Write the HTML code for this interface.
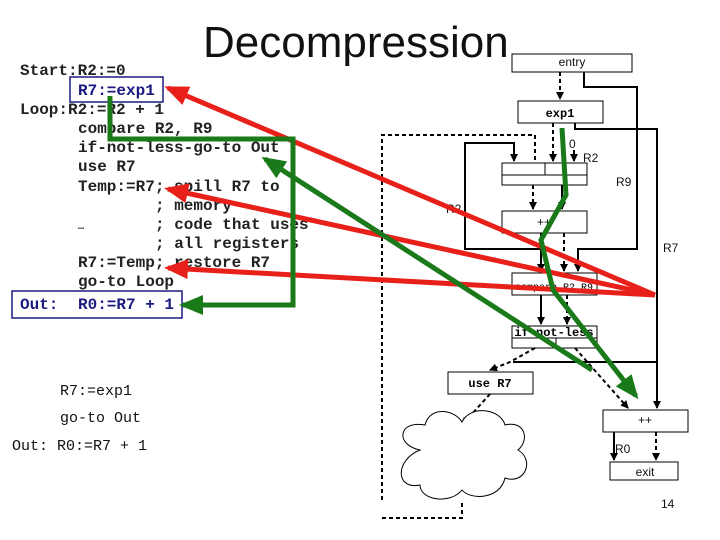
<!DOCTYPE html>
<html><head><meta charset="utf-8"><style>
html,body{margin:0;padding:0;background:#fff;}
svg{display:block;}
.m{font-family:"Liberation Mono",monospace;font-weight:bold;font-size:16px;fill:#222;}
.b{fill:#1a1a80;}
.n{font-family:"Liberation Mono",monospace;font-size:15px;fill:#111;}
.s{font-family:"Liberation Sans",sans-serif;font-size:12px;fill:#111;}
</style></head><body>
<svg width="720" height="540" viewBox="0 0 720 540" xmlns="http://www.w3.org/2000/svg">
<defs>
<marker id="ah" markerWidth="8" markerHeight="8" refX="7" refY="4" orient="auto" markerUnits="userSpaceOnUse"><path d="M0,0L8,4L0,8z" fill="#000"/></marker>
<marker id="rh" markerWidth="24" markerHeight="20" refX="20" refY="10" orient="auto" markerUnits="userSpaceOnUse"><path d="M0,0L24,10L0,20z" fill="#e8201a"/></marker>
<marker id="gh" markerWidth="24" markerHeight="20" refX="20" refY="10" orient="auto" markerUnits="userSpaceOnUse"><path d="M0,0L24,10L0,20z" fill="#1a7a1a"/></marker>
</defs>
<text x="203" y="57" font-family="Liberation Sans,sans-serif" font-size="44" fill="#111">Decompression</text>

<rect x="70" y="77" width="93" height="25" fill="none" stroke="#1a1a80" stroke-width="1.5"/>
<rect x="12" y="291" width="170" height="27" fill="none" stroke="#1a1a80" stroke-width="1.5"/>
<g class="m">
<text x="20" y="75">Start:R2:=0</text>
<text x="78" y="95" class="m b">R7:=exp1</text>
<text x="20" y="114">Loop:R2:=R2 + 1</text>
<text x="78" y="133">compare R2, R9</text>
<text x="78" y="152">if-not-less-go-to Out</text>
<text x="78" y="171">use R7</text>
<text x="78" y="191">Temp:=R7; spill R7 to</text>
<text x="155" y="210">; memory</text>
<text x="78" y="229" font-size="10">…</text>
<text x="155" y="229">; code that uses</text>
<text x="155" y="248">; all registers</text>
<text x="78" y="267">R7:=Temp; restore R7</text>
<text x="78" y="286">go-to Loop</text>
<text x="20" y="309" class="m b">Out:</text>
<text x="78" y="309" class="m b">R0:=R7 + 1</text>
</g>
<g class="n">
<text x="60" y="395">R7:=exp1</text>
<text x="60" y="422">go-to Out</text>
<text x="12" y="450">Out:  R0:=R7 + 1</text>
</g>

<g fill="#fff" stroke="#000" stroke-width="1">
<rect x="512" y="54" width="120" height="18"/>
<rect x="518" y="101" width="85" height="22"/>
<rect x="502" y="163" width="85" height="22"/>
<rect x="502" y="211" width="85" height="22"/>
<rect x="512" y="273" width="85" height="22"/>
<rect x="512" y="326" width="85" height="22"/>
<rect x="448" y="372" width="85" height="22"/>
<rect x="603" y="410" width="85" height="22"/>
<rect x="610" y="462" width="68" height="18"/>
</g>
<g stroke="#000" stroke-width="1" fill="none">
<line x1="502" y1="175" x2="587" y2="175"/><line x1="545" y1="163" x2="545" y2="175"/>
<line x1="512" y1="338" x2="597" y2="338"/><line x1="556" y1="338" x2="556" y2="348"/>
</g>
<text x="572" y="66" class="s" text-anchor="middle">entry</text>
<text x="560" y="117" text-anchor="middle" font-family="Liberation Mono,monospace" font-weight="bold" font-size="12">exp1</text>
<text x="544" y="226" class="s" text-anchor="middle">++</text>
<text x="554" y="290" text-anchor="middle" font-family="Liberation Mono,monospace" font-size="10">compare R2,R9</text>
<text x="554" y="336" text-anchor="middle" font-family="Liberation Mono,monospace" font-weight="bold" font-size="12">if-not-less</text>
<text x="490" y="387" text-anchor="middle" font-family="Liberation Mono,monospace" font-weight="bold" font-size="12">use R7</text>
<text x="645" y="424" class="s" text-anchor="middle">++</text>
<text x="645" y="476" class="s" text-anchor="middle">exit</text>

<g stroke="#000" stroke-width="2" fill="none">
<polyline points="584,72 584,87 637,87 637,249 578,249 578,271" marker-end="url(#ah)"/>
<polyline points="575,123 575,129 657,129 657,408" marker-end="url(#ah)"/>
<line x1="513" y1="362" x2="657" y2="362"/>
<polyline points="540,249 465,249 465,143 514,143 514,161" marker-end="url(#ah)"/>
<line x1="574" y1="150" x2="574" y2="161" marker-end="url(#ah)"/>
<line x1="562" y1="185" x2="562" y2="209" marker-end="url(#ah)"/>
<line x1="541" y1="233" x2="541" y2="271" marker-end="url(#ah)"/>
<line x1="541" y1="295" x2="541" y2="324" marker-end="url(#ah)"/>
<line x1="614" y1="432" x2="614" y2="460" marker-end="url(#ah)"/>
</g>
<g stroke="#000" stroke-width="2" fill="none" stroke-dasharray="4,3">
<line x1="560" y1="72" x2="560" y2="99" marker-end="url(#ah)"/>
<polyline points="382,500 382,135 535,135 535,161"/>
<polyline points="382,518 462,518 462,500"/>
<line x1="553" y1="123" x2="553" y2="161" marker-end="url(#ah)"/>
<line x1="533" y1="185" x2="533" y2="209" marker-end="url(#ah)"/>
<line x1="564" y1="233" x2="564" y2="271" marker-end="url(#ah)"/>
<line x1="567" y1="295" x2="567" y2="324" marker-end="url(#ah)"/>
<polyline points="535,348 510,362 490,370" marker-end="url(#ah)"/>
<line x1="575" y1="348" x2="628" y2="408" marker-end="url(#ah)"/>
<line x1="490" y1="394" x2="462" y2="425" marker-end="url(#ah)"/>
<line x1="656" y1="432" x2="656" y2="460" marker-end="url(#ah)"/>
</g>
<path d="M420,450 C395,445 398,420 425,425 C430,405 455,410 462,422 C470,405 500,408 505,425 C525,420 530,440 518,450 C535,460 525,485 505,478 C500,500 470,500 462,490 C450,505 420,500 420,485 C395,490 395,460 420,450 Z" fill="#fff" stroke="#000" stroke-width="1"/>

<g class="s" font-size="13">
<text x="569" y="148">0</text>
<text x="583" y="162">R2</text>
<text x="616" y="186">R9</text>
<text x="663" y="252">R7</text>
<text x="446" y="213">R2</text>
<text x="615" y="453">R0</text>
<text x="661" y="508">14</text>
</g>

<g stroke="#e8201a" stroke-width="5" fill="none">
<line x1="655" y1="295" x2="168" y2="88" marker-end="url(#rh)"/>
<line x1="655" y1="295" x2="168" y2="189" marker-end="url(#rh)"/>
<line x1="655" y1="295" x2="168" y2="268" marker-end="url(#rh)"/>
</g>
<g stroke="#1a7a1a" stroke-width="5" fill="none">
<polyline points="110,96 110,139 293,139 293,305 183,305" marker-end="url(#gh)"/>
<line x1="592" y1="370" x2="265" y2="159" marker-end="url(#gh)"/>
<polyline points="562,128 566,195 541,240 553,290 636,396" marker-end="url(#gh)"/>
</g>
</svg>
</body></html>
